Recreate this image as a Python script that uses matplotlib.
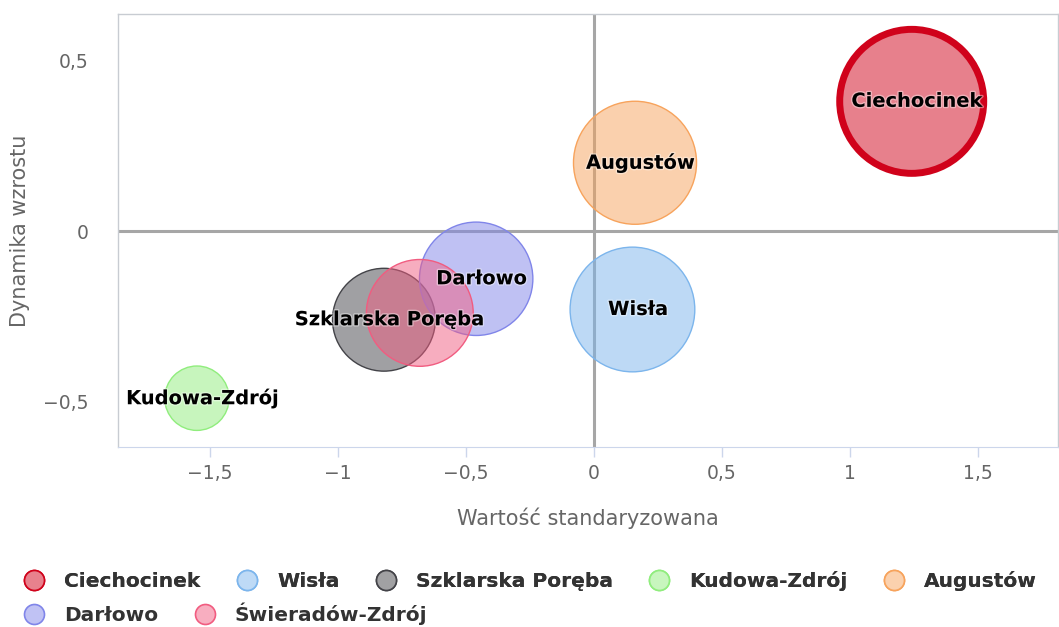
# plot.py
# Bubble chart: standardised value vs growth dynamics for Polish spa towns.
import numpy as np
import matplotlib.pyplot as plt
import matplotlib.patheffects as pe
from matplotlib.colors import to_rgb
from matplotlib.lines import Line2D
from matplotlib.ticker import FuncFormatter, MultipleLocator

names = ['Ciechocinek', 'Wisła', 'Szklarska Poręba', 'Kudowa-Zdrój',
         'Augustów', 'Darłowo', 'Świeradów-Zdrój']
x_vals = [1.24, 0.15, -0.82, -1.55, 0.16, -0.46, -0.68]
y_vals = [0.38, -0.23, -0.26, -0.49, 0.20, -0.14, -0.24]
z_vals = [100, 75, 51, 20, 73, 62, 55]
colors = ['#d0021b', '#7cb5ec', '#434348', '#90ed7d',
          '#f7a35c', '#8085e9', '#f15c80']

DPI = 100
fig = plt.figure(figsize=(10.59, 6.27), dpi=DPI)
ax = fig.add_axes([118 / 1059, 1 - 447 / 627, 940 / 1059, 433 / 627])

# bubble diameter ~ sqrt(z) (size by area), largest ~144 px
max_d_px = 144
for i, name in enumerate(names):
    d_pt = max_d_px * np.sqrt(z_vals[i] / max(z_vals)) * 72 / DPI
    lw = 5.0 if name == 'Ciechocinek' else 1.0
    ax.scatter(x_vals[i], y_vals[i], s=d_pt ** 2, color=colors[i], alpha=0.5,
               edgecolors='none', zorder=3 + i)
    ax.scatter(x_vals[i], y_vals[i], s=d_pt ** 2, facecolors='none',
               edgecolors=colors[i], linewidths=lw, zorder=3 + i)

# data labels (the overlapped Świeradów-Zdrój label is hidden in the original)
for i, name in enumerate(names):
    if name == 'Świeradów-Zdrój':
        continue
    ax.annotate(name, (x_vals[i], y_vals[i]), xytext=(4, 0),
                textcoords='offset points', ha='center', va='center',
                fontsize=14, fontweight='bold', color='#000000', zorder=20,
                path_effects=[pe.withStroke(linewidth=2, foreground='white', alpha=0.4)])

ax.axhline(0, color='#a6a6a6', lw=2.2, zorder=1)
ax.axvline(0, color='#a6a6a6', lw=2.2, zorder=1)

ax.set_xlim(-1.858, 1.811)
ax.set_ylim(-0.633, 0.636)
ax.xaxis.set_major_locator(MultipleLocator(0.5))
ax.yaxis.set_major_locator(MultipleLocator(0.5))
fmt = FuncFormatter(lambda v, p: f"{v:g}".replace('.', ',').replace('-', '\u2212'))
ax.xaxis.set_major_formatter(fmt)
ax.yaxis.set_major_formatter(fmt)

for side in ['top', 'left', 'right']:
    ax.spines[side].set_color('#c8ccd2')
    ax.spines[side].set_linewidth(1)
ax.spines['bottom'].set_color('#ccd6eb')
ax.tick_params(axis='x', length=7.2, width=1, color='#ccd6eb',
               labelsize=13.5, labelcolor='#666666', pad=5)
ax.tick_params(axis='y', length=0, labelsize=13.5, labelcolor='#666666', pad=21)

ax.set_xlabel('Wartość standaryzowana', fontsize=15, color='#666666', labelpad=18)
ax.set_ylabel('Dynamika wzrostu', fontsize=15, color='#666666')
ax.yaxis.set_label_coords(-0.094, 0.5)

# legend symbols: half-opacity fill pre-mixed with white, full-colour outline
handles = []
for c in colors:
    light = tuple(0.5 * v + 0.5 for v in to_rgb(c))
    handles.append(Line2D([], [], linestyle='none', marker='o', markersize=14.4,
                          markerfacecolor=light, markeredgecolor=c,
                          markeredgewidth=1.2))

leg_kw = dict(frameon=False, loc='center left', borderpad=0, borderaxespad=0,
              handlelength=1.0, handletextpad=1.0, columnspacing=1.8,
              prop={'size': 14.5, 'weight': 'bold'}, labelcolor='#333333')
leg1 = fig.legend(handles[:5], names[:5], ncol=5,
                  bbox_to_anchor=(24 / 1059, 1 - 581 / 627), **leg_kw)
fig.add_artist(leg1)
fig.legend(handles[5:], names[5:], ncol=2,
           bbox_to_anchor=(24 / 1059, 1 - 614 / 627), **leg_kw)

fig.savefig('out.png', dpi=DPI)
